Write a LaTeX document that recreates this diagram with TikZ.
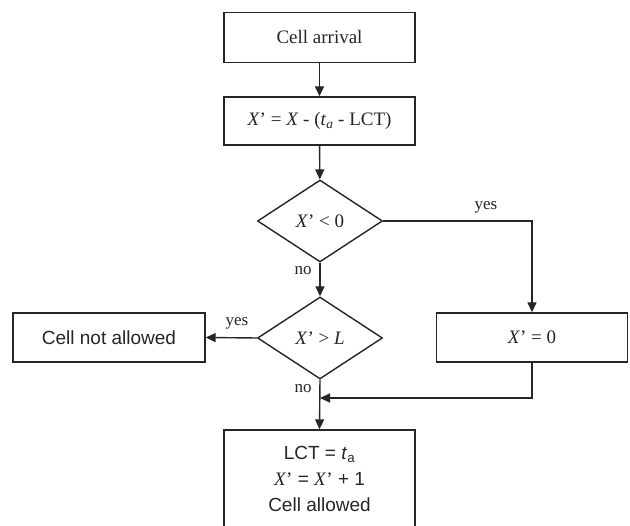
\documentclass[tikz,border=0pt]{standalone}
\usepackage{fontspec}
\setmainfont{Liberation Serif}
\setsansfont{Liberation Sans}
\usetikzlibrary{shapes.geometric,arrows.meta}
\definecolor{ink}{HTML}{262626}
\tikzset{
  box/.style={draw=ink, line width=1.4pt, rectangle, inner sep=0pt,
    minimum width=191pt, minimum height=49pt, text=ink, font=\fontsize{19}{22}\selectfont},
  decide/.style={draw=ink, line width=1.4pt, diamond, inner sep=0pt,
    minimum width=125pt, minimum height=82pt, text=ink, font=\fontsize{19}{22}\selectfont},
  flow/.style={draw=ink, line width=1.4pt, -{Triangle[length=10pt,width=9pt]}},
  lbl/.style={text=ink, font=\fontsize{17}{20}\selectfont, inner sep=0pt},
}
\begin{document}
\begin{tikzpicture}[x=1pt,y=-1pt]
  \useasboundingbox[fill=white] (0,0) rectangle (630,526);
  \clip (0,0) rectangle (630,526);

  \node[box, minimum height=50pt] (arrive) at (319.5,37.5) {Cell arrival};
  \node[box, minimum height=48pt] (update) at (319.5,121)
    {\textit{X}' = \textit{X} - (\textit{t}\textsubscript{\textit{a}} - LCT)};
  \node[decide] (neg) at (320,221) {\textit{X}' < 0};
  \node[decide] (over) at (320,338) {\textit{X}' > \textit{L}};
  \node[box, minimum width=192pt, font=\sffamily\fontsize{19}{22}\selectfont]
    (reject) at (109,337.5) {Cell not allowed};
  \node[box] (zero) at (532,337.5) {\textit{X}' = 0};
  \node[box, minimum height=98pt, align=center,
    font=\sffamily\fontsize{19}{26}\selectfont] (accept) at (319.5,479)
    {LCT = \textit{t}\textsubscript{a}\\
     {\rmfamily\textit{X}'} = {\rmfamily\textit{X}'} + 1\\
     Cell allowed};

  \coordinate (merge) at (320,398);

  \draw[flow] (arrive) -- (update);
  \draw[flow] (update) -- (neg);
  \draw[flow] (neg) -- (over);
  \draw[flow] (neg.east) -| (zero.north);
  \draw[flow] (over.west) -- (reject.east);
  \draw[flow] (over.south) -- (accept.north);
  \draw[flow] (zero.south) |- (merge);

  \node[lbl] (l1) at (486,207) {yes};
  \node[lbl] (l2) at (303,271) {no};
  \node[lbl] (l3) at (237,323) {yes};
  \node[lbl] (l4) at (303,389) {no};
\end{tikzpicture}
\end{document}
